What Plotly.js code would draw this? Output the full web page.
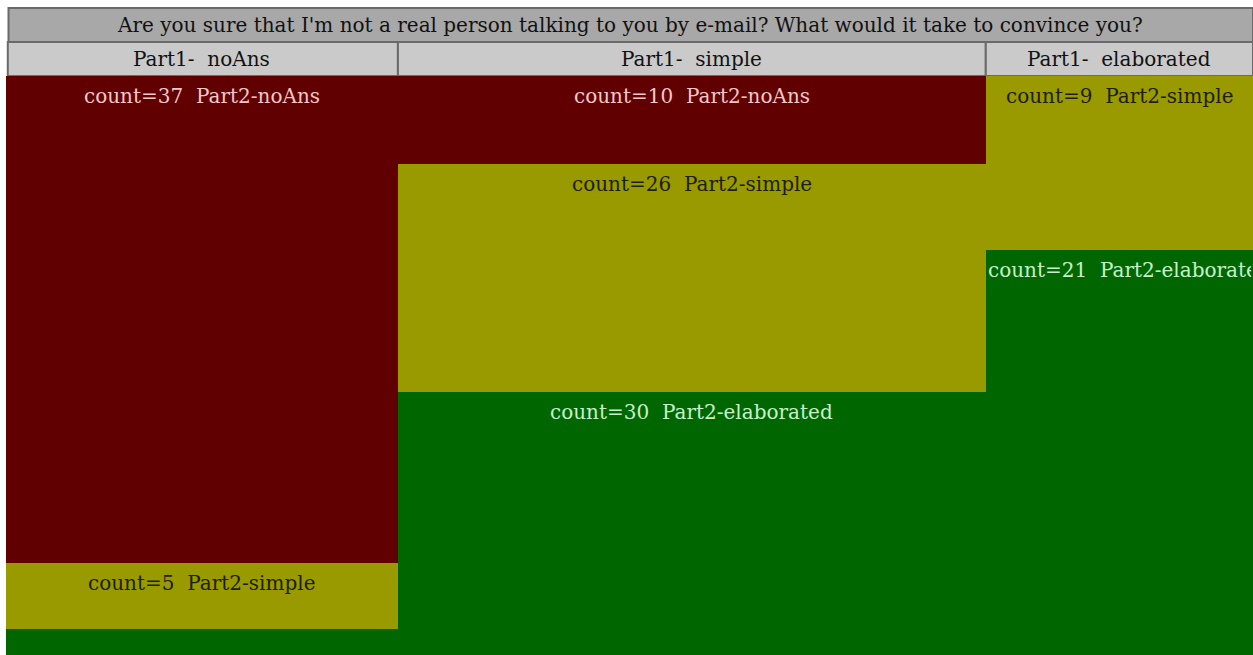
<!DOCTYPE html>
<html><head><meta charset="utf-8">
<script src="https://cdn.plot.ly/plotly-3.0.1.min.js"></script>
<style>html,body{margin:0;padding:0;background:#fff;}#chart{width:1253px;height:655px;}</style>
</head><body><div id="chart"></div>
<script>
var chartTitle = "Are you sure that I'm not a real person talking to you by e-mail? What would it take to convince you?";
var part1Labels = ["Part1-  noAns", "Part1-  simple", "Part1-  elaborated"];
var part2Labels = ["Part2-noAns", "Part2-simple", "Part2-elaborated"];
// counts[part2][part1]
var countsNoAns = [37, 10, 0];
var countsSimple = [5, 26, 9];
var countsElaborated = [2, 30, 21];
var fillColors = ["#610000", "#999900", "#006600"];
var textColors = ["#f2c8c8", "#1e1e00", "#c8f0c8"];

var FONT = 'DejaVu Serif, serif';
var FSIZE = 20;
var cv = document.createElement('canvas').getContext('2d');
cv.font = FSIZE + 'px "DejaVu Serif"';

var rows = [countsNoAns, countsSimple, countsElaborated];
var nCols = part1Labels.length;
var colTotals = [];
for (var c = 0; c < nCols; c++) { var s = 0; for (var r = 0; r < rows.length; r++) s += rows[r][c]; colTotals.push(s); }
var grand = colTotals.reduce(function(a,b){return a+b;}, 0);
var colStart = []; var acc = 0;
for (var c = 0; c < nCols; c++) { colStart.push(acc); acc += colTotals[c]; }

var plotW = 1253 - 6, plotH = 655 - 76;
var traces = [];
var annotations = [];
var cumBase = colTotals.map(function(){return 0;});
for (var r = 0; r < rows.length; r++) {
  var xs = [], ws = [], ys = [], bs = [];
  for (var c = 0; c < nCols; c++) {
    var p = rows[r][c] / colTotals[c];
    xs.push(colStart[c] + colTotals[c] / 2);
    ws.push(colTotals[c]);
    ys.push(p);
    bs.push(cumBase[c]);
    if (rows[r][c] > 0 && p * plotH > 30) {
      var txt = 'count=' + rows[r][c] + '  ' + part2Labels[r];
      var colPx = colTotals[c] / grand * plotW;
      var tw = cv.measureText(txt).width;
      var ann = {
        xref: 'x', yref: 'y', y: cumBase[c],
        yanchor: 'top', yshift: -6,
        text: txt, showarrow: false,
        font: {family: FONT, size: FSIZE, color: textColors[r]}
      };
      if (tw > colPx - 4) {
        ann.x = colStart[c]; ann.xanchor = 'left'; ann.width = colPx - 4; ann.align = 'left';
      } else {
        ann.x = colStart[c] + colTotals[c] / 2; ann.xanchor = 'center';
      }
      annotations.push(ann);
    }
    cumBase[c] += p;
  }
  traces.push({
    type: 'bar', x: xs, y: ys, base: bs, width: ws,
    marker: {color: fillColors[r], line: {width: 0}},
    hoverinfo: 'skip', showlegend: false, name: part2Labels[r]
  });
}

var shapes = [];
var y1 = 1 + 34 / plotH, y2 = 1 + 68 / plotH;
shapes.push({type: 'rect', xref: 'paper', yref: 'paper', x0: 0.002, x1: 1, y0: y1, y1: y2,
  fillcolor: '#a8a8a8', line: {color: '#6a6a6a', width: 2}, layer: 'below'});
for (var c = 0; c < nCols; c++) {
  shapes.push({type: 'rect', xref: 'x', yref: 'paper', x0: Math.max(colStart[c], 0.2), x1: colStart[c] + colTotals[c], y0: 1, y1: y1,
    fillcolor: '#cacaca', line: {color: '#6a6a6a', width: 2}, layer: 'below'});
  annotations.push({xref: 'x', yref: 'paper', x: colStart[c] + colTotals[c] / 2, y: (1 + y1) / 2,
    xanchor: 'center', yanchor: 'middle', text: part1Labels[c], showarrow: false,
    font: {family: FONT, size: FSIZE, color: '#111'}});
}
annotations.push({xref: 'paper', yref: 'paper', x: 0.5, y: (y1 + y2) / 2, xanchor: 'center', yanchor: 'middle',
  text: chartTitle, showarrow: false,
  font: {family: FONT, size: FSIZE, color: '#111'}});

var layout = {
  width: 1253, height: 655,
  margin: {l: 6, r: 0, t: 76, b: 0, pad: 0},
  paper_bgcolor: '#ffffff', plot_bgcolor: '#ffffff',
  barmode: 'overlay', bargap: 0,
  xaxis: {range: [0, grand], showgrid: false, zeroline: false, showticklabels: false, ticks: '', showline: false, fixedrange: true},
  yaxis: {range: [1, 0], showgrid: false, zeroline: false, showticklabels: false, ticks: '', showline: false, fixedrange: true},
  shapes: shapes, annotations: annotations, showlegend: false
};
Plotly.newPlot('chart', traces, layout, {displayModeBar: false, staticPlot: true});
</script></body></html>
